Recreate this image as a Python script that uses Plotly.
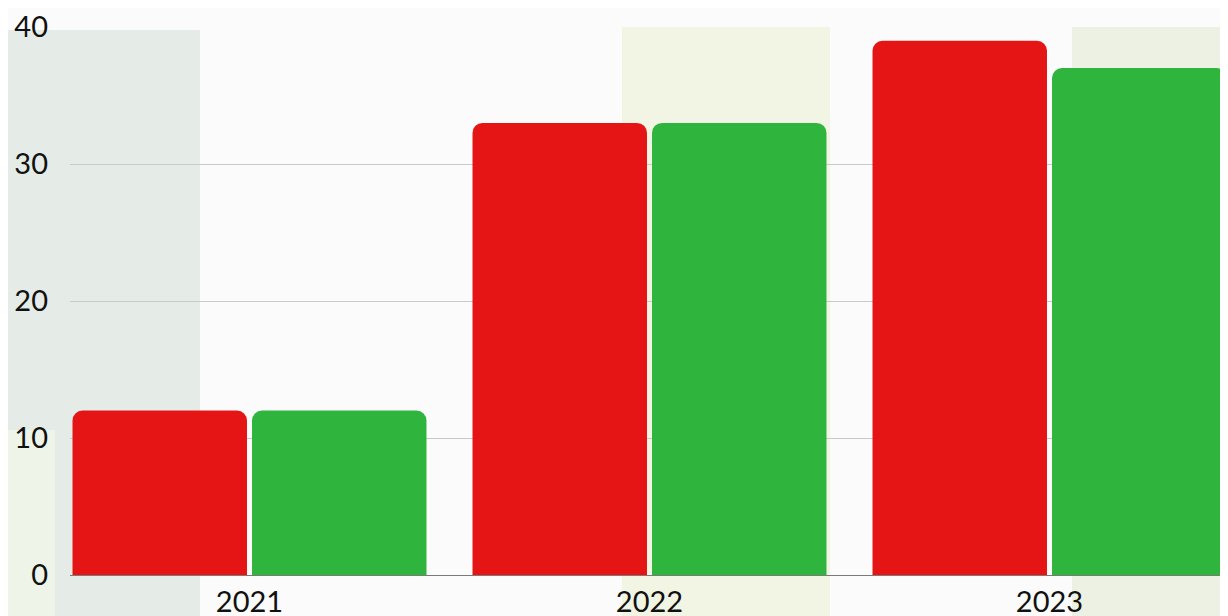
import plotly.graph_objects as go

years = ["2021", "2022", "2023"]
series_red = [12, 33, 39]
series_green = [12, 33, 37]
y_ticks = [0, 10, 20, 30, 40]

RED = "#E51516"
GREEN = "#2FB53E"
FONT = "Lato"

fig = go.Figure()
fig.add_trace(go.Bar(x=years, y=series_red, marker=dict(color=RED, line=dict(width=0)), name="A"))
fig.add_trace(go.Bar(x=years, y=series_green, marker=dict(color=GREEN, line=dict(width=0)), name="B"))

# plot area spans page x ~70..1228, y 27..575
X0 = 70
PW = 1158
def px_x(p):
    return (p - X0) / PW
def px_y(p):
    return (575 - p) / 548

shapes = [
    dict(type="rect", xref="paper", yref="paper", x0=px_x(-5), x1=px_x(200), y0=px_y(640), y1=px_y(30),
         fillcolor="#e5ebe6", line=dict(width=0), layer="below"),
    dict(type="rect", xref="paper", yref="paper", x0=px_x(-5), x1=px_x(55), y0=px_y(640), y1=px_y(430),
         fillcolor="#eef5e8", line=dict(width=0), layer="below"),
    dict(type="rect", xref="paper", yref="paper", x0=px_x(622), x1=px_x(830), y0=px_y(640), y1=px_y(27),
         fillcolor="#f2f5e3", line=dict(width=0), layer="below"),
    dict(type="rect", xref="paper", yref="paper", x0=px_x(1072), x1=px_x(1240), y0=px_y(640), y1=px_y(27),
         fillcolor="#edf1e4", line=dict(width=0), layer="below"),
]

fig.update_layout(
    width=1220, height=608,
    margin=dict(l=62, r=0, t=19, b=41, autoexpand=False),
    paper_bgcolor="#fbfbfb", plot_bgcolor="rgba(0,0,0,0)",
    showlegend=False,
    barmode="group", bargap=0.1025, bargroupgap=0.028,
    barcornerradius=10,
    font=dict(family=FONT, size=29, color="#111111"),
    shapes=shapes,
    xaxis=dict(type="category", range=[-0.44875, 2.44625], showgrid=False, automargin=False,
               showline=False, ticks="", ticklabelstandoff=7, tickfont=dict(size=29, family=FONT)),
    yaxis=dict(range=[0, 40], tickvals=y_ticks, showgrid=True, gridcolor="#c9c9c9", gridwidth=1,
               zeroline=True, zerolinecolor="#7a7a7a", zerolinewidth=1, automargin=False,
               ticks="", ticklabelstandoff=21, tickfont=dict(size=29, family=FONT)),
)

fig.write_html("out.html")
